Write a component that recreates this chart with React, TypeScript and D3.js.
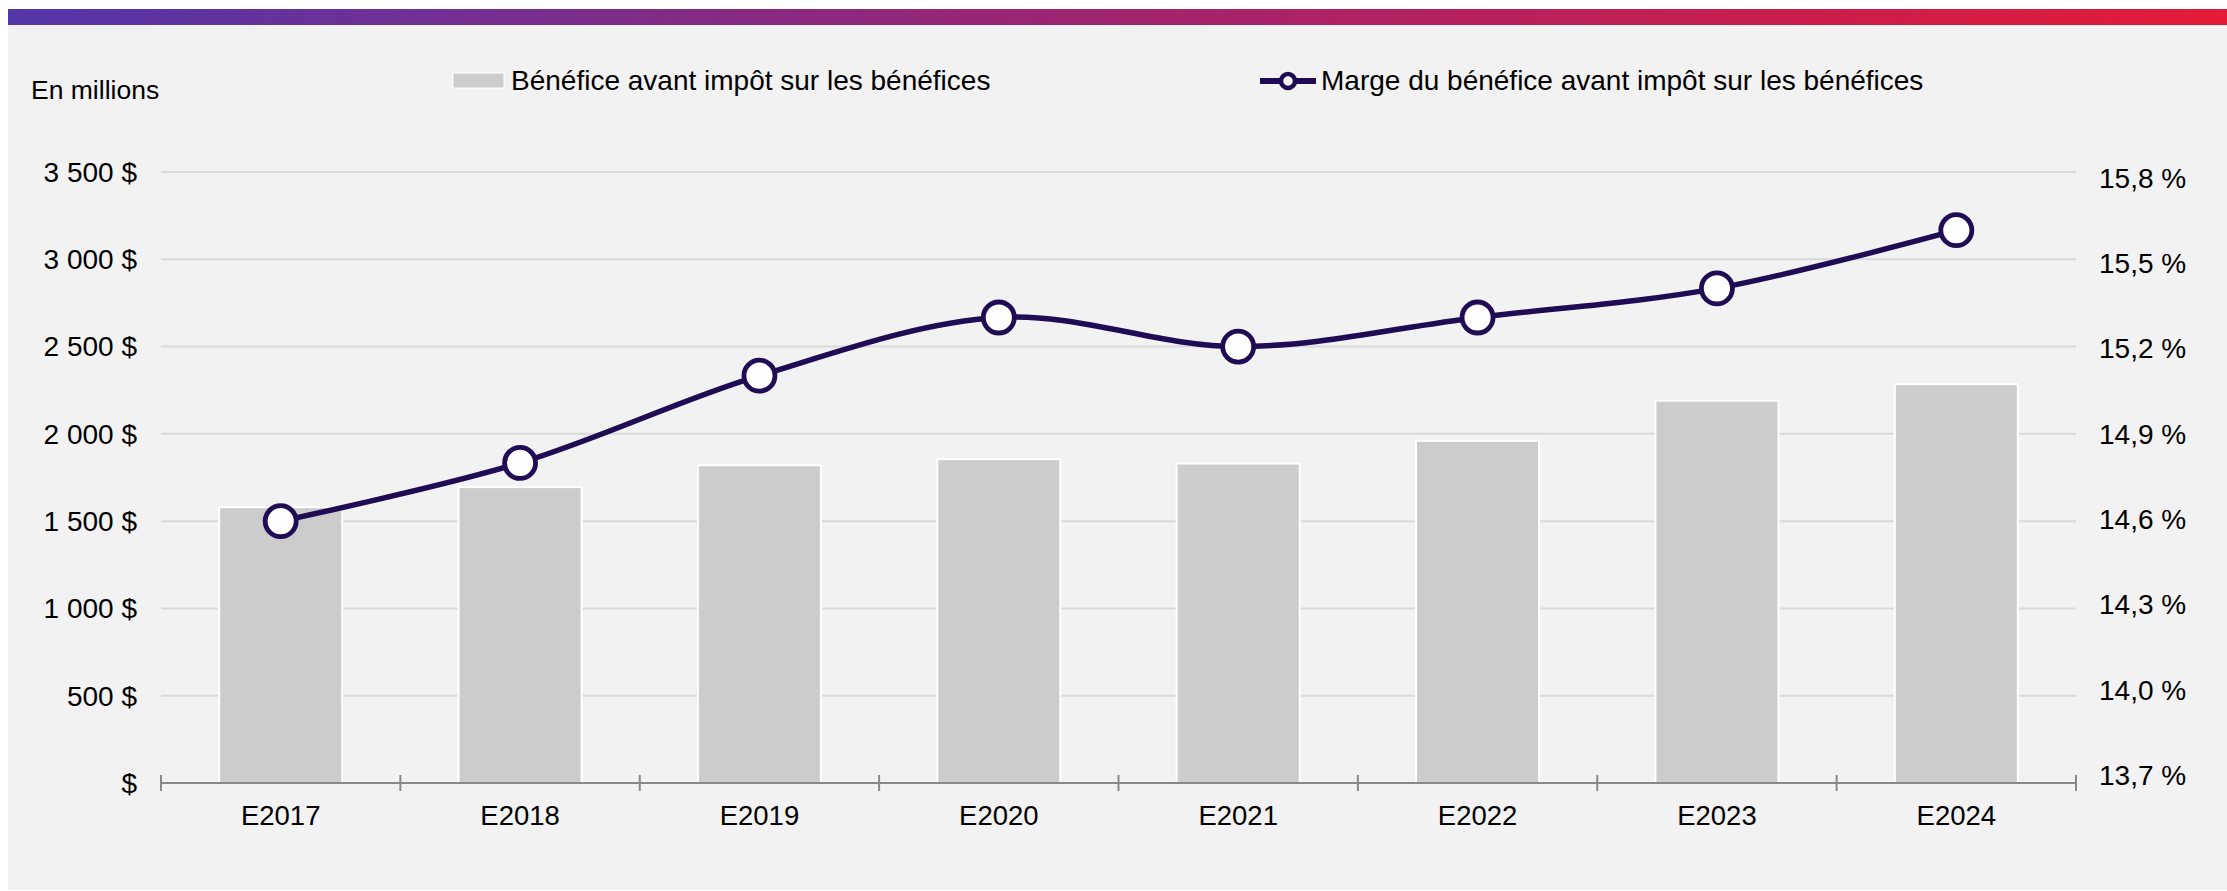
import React from "react";
import * as d3 from "d3";

const categories = ["E2017", "E2018", "E2019", "E2020", "E2021", "E2022", "E2023", "E2024"];
const profit = [1580, 1695, 1820, 1855, 1830, 1960, 2190, 2285]; // millions $
const profitMargin = [14.6, 14.8, 15.1, 15.3, 15.2, 15.3, 15.4, 15.6]; // %
const leftTicks = [0, 500, 1000, 1500, 2000, 2500, 3000, 3500];
const rightTicks = [13.7, 14.0, 14.3, 14.6, 14.9, 15.2, 15.5, 15.8];

const barLabel = "Bénéfice avant impôt sur les bénéfices";
const lineLabel = "Marge du bénéfice avant impôt sur les bénéfices";

const W = 2227;
const H = 891;
const FONT = "'Liberation Sans', Arial, sans-serif";
const LINE_COLOR = "#200c54";

const plot = { left: 161, right: 2076, top: 172, bottom: 783 };

const fmtLeft = (d: number) =>
  d === 0 ? "$" : d3.format(",")(d).replace(",", "\u00a0") + "\u00a0$";
const fmtRight = (d: number) => d.toFixed(1).replace(".", ",") + "\u00a0%";

export default function App() {
  const x = d3
    .scaleBand<string>()
    .domain(categories)
    .range([plot.left, plot.right])
    .paddingInner(0.486)
    .paddingOuter(0.243);

  const yLeft = d3.scaleLinear().domain([0, 3500]).range([plot.bottom, plot.top]);
  const yRight = d3.scaleLinear().domain([13.7, 15.8]).range([plot.bottom, plot.top]);
  // right-hand labels sit on a slightly tighter spacing than the gridlines
  const yRightLabel = d3.scaleLinear().domain([13.7, 15.8]).range([775, 178]);

  const cx = (c: string) => (x(c) ?? 0) + x.bandwidth() / 2;
  const step = x.step();
  const boundaries = d3.range(categories.length + 1).map((i) => plot.left + i * step);

  const line = d3
    .line<number>()
    .x((_, i) => cx(categories[i]))
    .y((d) => yRight(d))
    .curve(d3.curveCardinal.tension(0));

  return (
    <svg
      width={W}
      height={H}
      style={{ position: "absolute", left: 0, top: 0, display: "block" }}
      fontFamily={FONT}
    >
      <defs>
        <linearGradient id="topbar" x1="0" x2="1" y1="0" y2="0">
          <stop offset="0%" stopColor="#5436aa" />
          <stop offset="50%" stopColor="#a1246f" />
          <stop offset="100%" stopColor="#e41b38" />
        </linearGradient>
      </defs>
      <rect x={0} y={0} width={W} height={H} fill="#ffffff" />
      <rect x={8} y={25} width={W - 8} height={865} fill="#f2f2f2" />
      <rect x={8} y={9} width={W - 8} height={16} fill="url(#topbar)" />

      {/* unit label */}
      <text x={31} y={99} fontSize={26.5} fill="#000">
        En millions
      </text>

      {/* legend */}
      <rect x={453} y={73} width={51} height={15} fill="#cccccc" stroke="#ffffff" strokeWidth={1} />
      <text x={511} y={90} fontSize={28} fill="#000">
        {barLabel}
      </text>
      <line x1={1260} x2={1316} y1={81} y2={81} stroke={LINE_COLOR} strokeWidth={6} />
      <circle cx={1288} cy={81} r={7} fill="#fff" stroke={LINE_COLOR} strokeWidth={4.5} />
      <text x={1321} y={90} fontSize={28} fill="#000">
        {lineLabel}
      </text>

      {/* gridlines */}
      {leftTicks
        .filter((t) => t > 0)
        .map((t) => (
          <line
            key={t}
            x1={plot.left}
            x2={plot.right}
            y1={yLeft(t)}
            y2={yLeft(t)}
            stroke="#d9d9d9"
            strokeWidth={2}
          />
        ))}

      {/* bars */}
      {categories.map((c, i) => (
        <rect
          key={c}
          x={x(c)}
          y={yLeft(profit[i])}
          width={x.bandwidth()}
          height={plot.bottom - yLeft(profit[i])}
          fill="#cccccc"
          stroke="#ffffff"
          strokeWidth={2}
        />
      ))}

      {/* x axis */}
      <line x1={plot.left} x2={plot.right} y1={plot.bottom} y2={plot.bottom} stroke="#898989" strokeWidth={2} />
      {boundaries.map((bx, i) => (
        <line key={i} x1={bx} x2={bx} y1={plot.bottom - 8} y2={plot.bottom + 8} stroke="#898989" strokeWidth={2} />
      ))}
      {categories.map((c) => (
        <text key={c} x={cx(c)} y={825} fontSize={27.5} textAnchor="middle" fill="#000">
          {c}
        </text>
      ))}

      {/* left axis labels */}
      {leftTicks.map((t) => (
        <text key={t} x={137} y={yLeft(t)} dy="0.35em" fontSize={28} textAnchor="end" fill="#000">
          {fmtLeft(t)}
        </text>
      ))}

      {/* right axis labels */}
      {rightTicks.map((t) => (
        <text key={t} x={2099} y={yRightLabel(t)} dy="0.35em" fontSize={28} textAnchor="start" fill="#000">
          {fmtRight(t)}
        </text>
      ))}

      {/* margin line */}
      <path d={line(profitMargin) ?? ""} fill="none" stroke={LINE_COLOR} strokeWidth={5.5} />
      {profitMargin.map((v, i) => (
        <circle
          key={categories[i]}
          cx={cx(categories[i])}
          cy={yRight(v)}
          r={15.5}
          fill="#ffffff"
          stroke={LINE_COLOR}
          strokeWidth={4.8}
        />
      ))}
    </svg>
  );
}
